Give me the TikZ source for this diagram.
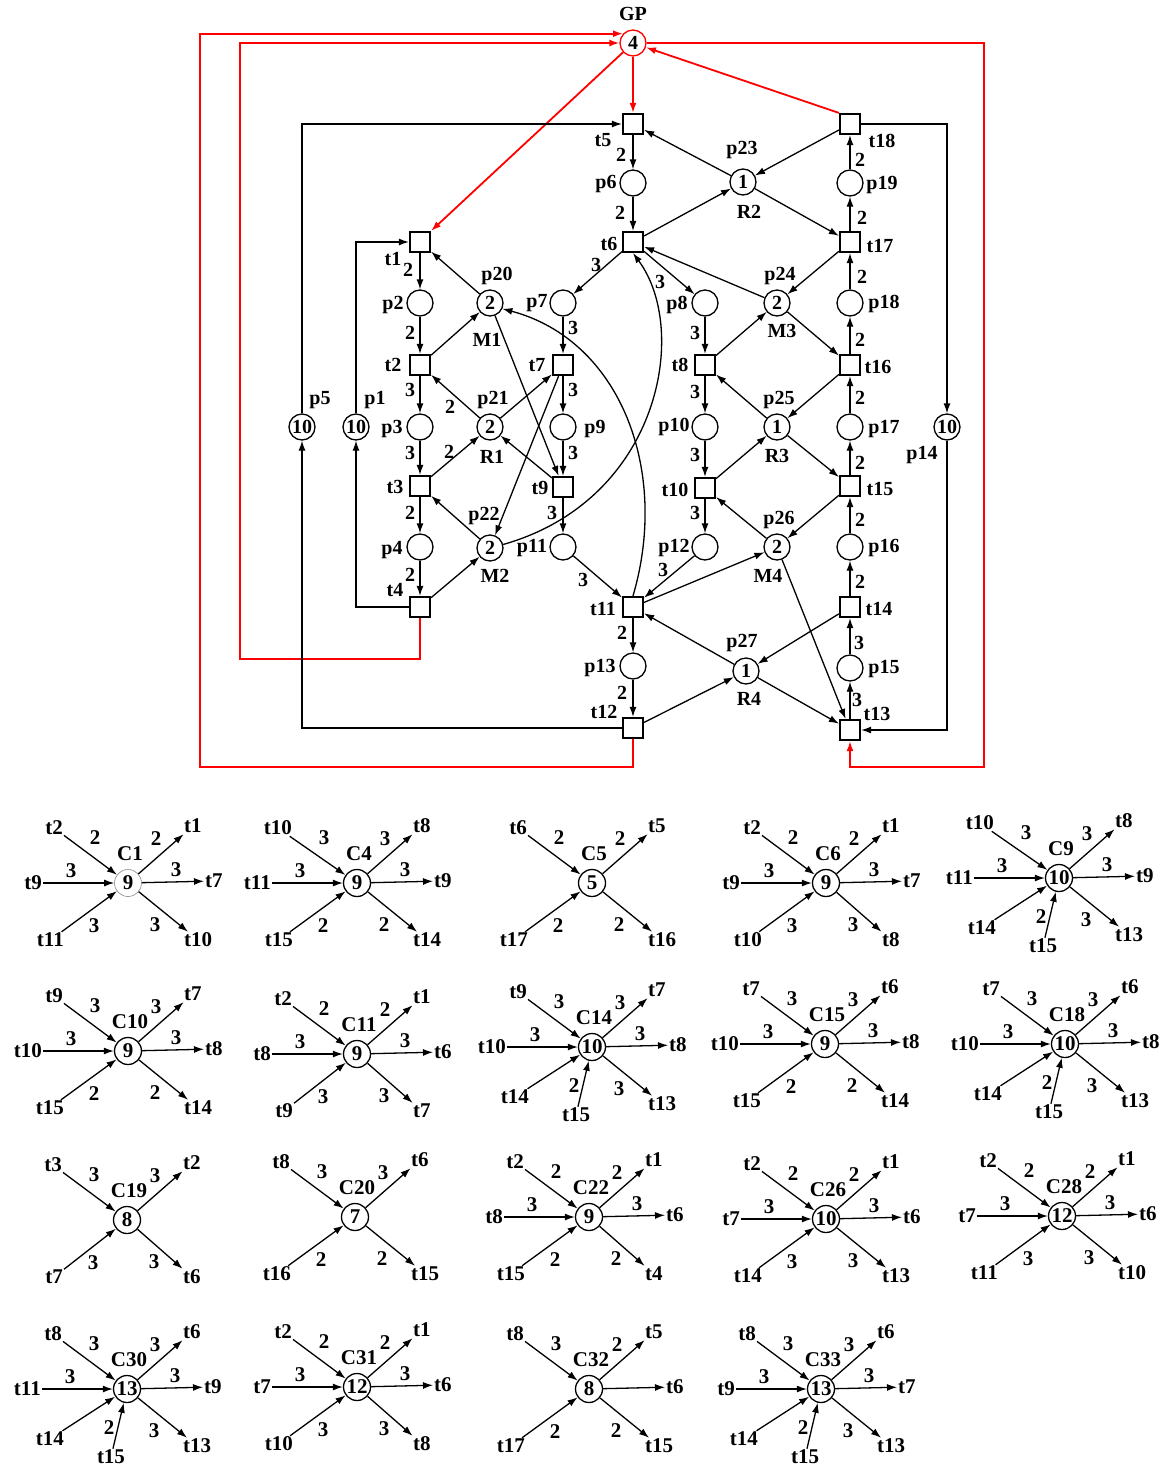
\documentclass[tikz,border=0pt]{standalone}
\usepackage{fontspec}
\setmainfont{Liberation Serif}
\usetikzlibrary{arrows.meta,calc}
\newcommand\wnode[3]{\def\argtmp{#3}\ifx\argtmp\empty\else\node (#1) at (#2) {#3};\fi}
\newcommand\mkC[4]{\node[cpl,#4] (#1) at (0,0) {#3};\node (#1n) at (2,-29) {#2};}
\newcommand\aUL[3]{\node[anchor=east] (#1a) at (-64,-55) {#2};\draw[arr] (#1a) -- (#1);\wnode{#1aw}{-33,-45}{#3}}
\newcommand\aL[3]{\node[anchor=east] (#1b) at (-85,0) {#2};\draw[arr] (#1b) -- (#1);\wnode{#1bw}{-57,-12}{#3}}
\newcommand\aLL[3]{\node[anchor=east] (#1c) at (-63,57) {#2};\draw[arr] (#1c) -- (#1);\wnode{#1cw}{-34,43}{#3}}
\newcommand\aLLb[2]{\node[anchor=east] (#1c) at (-62,50) {#2};\draw[arr] (#1c) -- (#1);}
\newcommand\aB[3]{\node (#1d) at (-16,68) {#2};\draw[arr] (#1d) -- (#1);\wnode{#1dw}{-18,39}{#3}}
\newcommand\aUR[3]{\node[anchor=west] (#1e) at (55,-57) {#2};\draw[arr] (#1) -- (#1e);\wnode{#1ew}{28,-44}{#3}}
\newcommand\aR[3]{\node[anchor=west] (#1f) at (76,-2) {#2};\draw[arr] (#1) -- (#1f);\wnode{#1fw}{48,-13}{#3}}
\newcommand\aLR[3]{\node[anchor=west] (#1g) at (55,57) {#2};\draw[arr] (#1) -- (#1g);\wnode{#1gw}{27,42}{#3}}
\begin{document}
\begin{tikzpicture}[x=1pt,y=-1pt,
  every node/.style={font=\fontsize{20}{22}\selectfont\bfseries,inner sep=1pt},
  pl/.style={circle,draw,line width=1.3pt,minimum size=26pt,inner sep=0pt},
  cpl/.style={circle,draw,line width=1.3pt,minimum size=27pt,inner sep=0pt},
  tr/.style={rectangle,draw,line width=2.2pt,minimum size=20pt,inner sep=0pt},
  arr/.style={-{Latex[length=10pt,width=7pt]},line width=1.3pt},
  redarr/.style={arr,red,line width=1.8pt},
  starsc/.style={every node/.append style={font=\fontsize{21}{23}\selectfont\bfseries}}]
\useasboundingbox[fill=white] (0,0) rectangle (1167,1468);
% ---------- places ----------
\node[pl,draw=red] (GP) at (633,43) {4};
\node (GPl) at (633,14) {GP};
\node[pl] (p6) at (633,183) {};
\node[pl] (p23) at (743,182) {1};
\node[pl] (p19) at (850,183) {};
\node[pl] (p2) at (420,303) {};
\node[pl] (p20) at (490,303) {2};
\node[pl] (p7) at (563,303) {};
\node[pl] (p8) at (705,303) {};
\node[pl] (p24) at (777,303) {2};
\node[pl] (p18) at (850,303) {};
\node[pl] (p5) at (302,427) {10};
\node[pl] (p1) at (356,427) {10};
\node[pl] (p3) at (420,427) {};
\node[pl] (p21) at (490,427) {2};
\node[pl] (p9) at (563,427) {};
\node[pl] (p10) at (705,427) {};
\node[pl] (p25) at (777,427) {1};
\node[pl] (p17) at (850,427) {};
\node[pl] (p14) at (947,427) {10};
\node[pl] (p4) at (420,547) {};
\node[pl] (p22) at (490,548) {2};
\node[pl] (p11) at (563,547) {};
\node[pl] (p12) at (705,547) {};
\node[pl] (p26) at (777,547) {2};
\node[pl] (p16) at (850,547) {};
\node[pl] (p13) at (633,666) {};
\node[pl] (p27) at (746,671) {1};
\node[pl] (p15) at (850,668) {};
% ---------- transitions ----------
\node[tr] (t5) at (633,124) {};
\node[tr] (t6) at (633,242) {};
\node[tr] (t1) at (420,242) {};
\node[tr] (t2) at (420,365) {};
\node[tr] (t3) at (420,486) {};
\node[tr] (t4) at (420,607) {};
\node[tr] (t7) at (563,365) {};
\node[tr] (t9) at (563,487) {};
\node[tr] (t8) at (705,365) {};
\node[tr] (t10) at (705,488) {};
\node[tr] (t11) at (633,607) {};
\node[tr] (t12) at (633,728) {};
\node[tr] (t13) at (850,730) {};
\node[tr] (t14) at (850,607) {};
\node[tr] (t15) at (850,486) {};
\node[tr] (t16) at (850,365) {};
\node[tr] (t17) at (850,242) {};
\node[tr] (t18) at (850,124) {};
% ---------- names ----------
\node (lt5) at (603,140) {t5};
\node (lt6) at (609,244) {t6};
\node (lt1) at (393,259) {t1};
\node (lt2) at (393,365) {t2};
\node (lt3) at (395,487) {t3};
\node (lt4) at (395,590) {t4};
\node (lt7) at (537,365) {t7};
\node (lt9) at (540,488) {t9};
\node (lt8) at (680,365) {t8};
\node (lt10) at (675,490) {t10};
\node (lt11) at (603,609) {t11};
\node (lt12) at (604,712) {t12};
\node (lt13) at (877,714) {t13};
\node (lt14) at (879,609) {t14};
\node (lt15) at (880,489) {t15};
\node (lt16) at (878,367) {t16};
\node (lt17) at (880,246) {t17};
\node (lt18) at (882,141) {t18};
\node (lp6) at (606,184) {p6};
\node (lp23) at (742,150) {p23};
\node (lR2) at (749,212) {R2};
\node (lp19) at (882,185) {p19};
\node (lp2) at (393,305) {p2};
\node (lp20) at (497,276) {p20};
\node (lM1) at (487,340) {M1};
\node (lp7) at (537,303) {p7};
\node (lp8) at (677,305) {p8};
\node (lp24) at (780,276) {p24};
\node (lM3) at (782,331) {M3};
\node (lp18) at (884,304) {p18};
\node (lp5) at (320,400) {p5};
\node (lp1) at (375,400) {p1};
\node (lp3) at (392,429) {p3};
\node (lp21) at (493,400) {p21};
\node (lR1) at (492,457) {R1};
\node (lp9) at (595,429) {p9};
\node (lp10) at (674,427) {p10};
\node (lp25) at (779,400) {p25};
\node (lR3) at (777,456) {R3};
\node (lp17) at (884,429) {p17};
\node (lp14) at (922,455) {p14};
\node (lp4) at (392,550) {p4};
\node (lp22) at (484,516) {p22};
\node (lM2) at (495,576) {M2};
\node (lp11) at (532,548) {p11};
\node (lp12) at (674,548) {p12};
\node (lp26) at (779,520) {p26};
\node (lM4) at (768,576) {M4};
\node (lp16) at (884,548) {p16};
\node (lp13) at (600,668) {p13};
\node (lp27) at (742,643) {p27};
\node (lR4) at (749,699) {R4};
\node (lp15) at (884,669) {p15};
% ---------- red arcs ----------
\draw[redarr] (GP) -- (t5);
\draw[redarr] (GP) -- (t1.north east);
\draw[redarr] (t18.north west) -- (GP);
\draw[redarr] (GP.east) -| (984,767) -| (t13.south);
\draw[redarr] (t12.south) |- (200,767) |- (GP.137);
\draw[redarr] (t4.south) |- (240,659) |- (GP.west);
% ---------- outer black arcs ----------
\draw[arr] (t12.west) -| (p5.south);
\draw[arr] (p5.north) |- (t5.west);
\draw[arr] (t4.west) -| (p1.south);
\draw[arr] (p1.north) |- (t1.west);
\draw[arr] (t18.east) -| (p14.north);
\draw[arr] (p14.south) |- (t13.east);
% ---------- inner arcs ----------
\draw[arr] (t5) -- (p6);
\draw[arr] (p6) -- (t6);
\draw[arr] (p23) -- (t5);
\draw[arr] (t18) -- (p23);
\draw[arr] (t6) -- (p23);
\draw[arr] (p23) -- (t17);
\draw[arr] (p19) -- (t18);
\draw[arr] (t17) -- (p19);
\draw[arr] (p24) -- (t6);
\draw[arr] (t17) -- (p24);
\draw[arr] (p18) -- (t17);
\draw[arr] (t6) -- (p7);
\draw[arr] (t6) -- (p8);
\draw[arr] (t1) -- (p2);
\draw[arr] (p20) -- (t1);
\draw[arr] (p2) -- (t2);
\draw[arr] (t2) -- (p20);
\draw[arr] (p20) -- (t9);
\draw[arr] (t11.north) .. controls (670,470) and (620,340) .. (p20.-25);
\draw[arr] (p22.15) .. controls (660,500) and (690,330) .. (t6.south);
\draw[arr] (p7) -- (t7);
\draw[arr] (t7) -- (p9);
\draw[arr] (t7) -- (p22);
\draw[arr] (p21) -- (t7);
\draw[arr] (p21) -- (t2);
\draw[arr] (t3) -- (p21);
\draw[arr] (t9) -- (p21);
\draw[arr] (t2) -- (p3);
\draw[arr] (p3) -- (t3);
\draw[arr] (p9) -- (t9);
\draw[arr] (t3) -- (p4);
\draw[arr] (p22) -- (t3);
\draw[arr] (p4) -- (t4);
\draw[arr] (t4) -- (p22);
\draw[arr] (t9) -- (p11);
\draw[arr] (p11) -- (t11);
\draw[arr] (p8) -- (t8);
\draw[arr] (t8) -- (p24);
\draw[arr] (p24) -- (t16);
\draw[arr] (t16) -- (p18);
\draw[arr] (t8) -- (p10);
\draw[arr] (p25) -- (t8);
\draw[arr] (t16) -- (p25);
\draw[arr] (p17) -- (t16);
\draw[arr] (p10) -- (t10);
\draw[arr] (t10) -- (p25);
\draw[arr] (p25) -- (t15);
\draw[arr] (t15) -- (p17);
\draw[arr] (t10) -- (p12);
\draw[arr] (p26) -- (t10);
\draw[arr] (t15) -- (p26);
\draw[arr] (p16) -- (t15);
\draw[arr] (p12) -- (t11);
\draw[arr] (t11) -- (p26);
\draw[arr] (p26) -- (t13);
\draw[arr] (t14) -- (p16);
\draw[arr] (t11) -- (p13);
\draw[arr] (p27) -- (t11);
\draw[arr] (t14) -- (p27);
\draw[arr] (p13) -- (t12);
\draw[arr] (t12) -- (p27);
\draw[arr] (p27) -- (t13);
\draw[arr] (p15) -- (t14);
\draw[arr] (t13) -- (p15);
% ---------- weights ----------
\node (w1) at (621,155) {2};
\node (w2) at (620,213) {2};
\node (w3) at (860,160) {2};
\node (w4) at (862,218) {2};
\node (w5) at (862,277) {2};
\node (w6) at (596,265) {3};
\node (w7) at (660,282) {3};
\node (w8) at (408,270) {2};
\node (w9) at (410,333) {2};
\node (w10) at (410,390) {3};
\node (w11) at (450,407) {2};
\node (w12) at (410,453) {3};
\node (w13) at (449,452) {2};
\node (w14) at (410,513) {2};
\node (w15) at (410,575) {2};
\node (w16) at (573,328) {3};
\node (w17) at (573,390) {3};
\node (w18) at (573,453) {3};
\node (w19) at (552,513) {3};
\node (w20) at (583,580) {3};
\node (w21) at (663,570) {3};
\node (w22) at (695,333) {3};
\node (w23) at (695,392) {3};
\node (w24) at (695,455) {3};
\node (w25) at (695,513) {3};
\node (w26) at (860,340) {2};
\node (w27) at (860,398) {2};
\node (w28) at (860,463) {2};
\node (w29) at (860,520) {2};
\node (w30) at (860,582) {2};
\node (w31) at (622,633) {2};
\node (w32) at (622,693) {2};
\node (w33) at (859,643) {3};
\node (w34) at (857,700) {3};
% ---------- invariant stars ----------
\begin{scope}[starsc,shift={(128,883)}]
\mkC{C1}{C1}{9}{draw=black!45,line width=0.6pt}
\aUL{C1}{t2}{2}\aL{C1}{t9}{3}\aLL{C1}{t11}{3}\aUR{C1}{t1}{2}\aR{C1}{t7}{3}\aLR{C1}{t10}{3}
\end{scope}
\begin{scope}[starsc,shift={(357,883)}]
\mkC{C4}{C4}{9}{}
\aUL{C4}{t10}{3}\aL{C4}{t11}{3}\aLL{C4}{t15}{2}\aUR{C4}{t8}{3}\aR{C4}{t9}{3}\aLR{C4}{t14}{2}
\end{scope}
\begin{scope}[starsc,shift={(592,883)}]
\mkC{C5}{C5}{5}{}
\aUL{C5}{t6}{2}\aLL{C5}{t17}{2}\aUR{C5}{t5}{2}\aLR{C5}{t16}{2}
\end{scope}
\begin{scope}[starsc,shift={(826,883)}]
\mkC{C6}{C6}{9}{}
\aUL{C6}{t2}{2}\aL{C6}{t9}{3}\aLL{C6}{t10}{3}\aUR{C6}{t1}{2}\aR{C6}{t7}{3}\aLR{C6}{t8}{3}
\end{scope}
\begin{scope}[starsc,shift={(1059,878)}]
\mkC{C9}{C9}{10}{}
\aUL{C9}{t10}{3}\aL{C9}{t11}{3}\aLLb{C9}{t14}\aB{C9}{t15}{2}\aUR{C9}{t8}{3}\aR{C9}{t9}{3}\aLR{C9}{t13}{3}
\end{scope}
\begin{scope}[starsc,shift={(128,1051)}]
\mkC{C10}{C10}{9}{}
\aUL{C10}{t9}{3}\aL{C10}{t10}{3}\aLL{C10}{t15}{2}\aUR{C10}{t7}{3}\aR{C10}{t8}{3}\aLR{C10}{t14}{2}
\end{scope}
\begin{scope}[starsc,shift={(357,1054)}]
\mkC{C11}{C11}{9}{}
\aUL{C11}{t2}{2}\aL{C11}{t8}{3}\aLL{C11}{t9}{3}\aUR{C11}{t1}{2}\aR{C11}{t6}{3}\aLR{C11}{t7}{3}
\end{scope}
\begin{scope}[starsc,shift={(592,1047)}]
\mkC{C14}{C14}{10}{}
\aUL{C14}{t9}{3}\aL{C14}{t10}{3}\aLLb{C14}{t14}\aB{C14}{t15}{2}\aUR{C14}{t7}{3}\aR{C14}{t8}{3}\aLR{C14}{t13}{3}
\end{scope}
\begin{scope}[starsc,shift={(825,1044)}]
\mkC{C15}{C15}{9}{}
\aUL{C15}{t7}{3}\aL{C15}{t10}{3}\aLL{C15}{t15}{2}\aUR{C15}{t6}{3}\aR{C15}{t8}{3}\aLR{C15}{t14}{2}
\end{scope}
\begin{scope}[starsc,shift={(1065,1044)}]
\mkC{C18}{C18}{10}{}
\aUL{C18}{t7}{3}\aL{C18}{t10}{3}\aLLb{C18}{t14}\aB{C18}{t15}{2}\aUR{C18}{t6}{3}\aR{C18}{t8}{3}\aLR{C18}{t13}{3}
\end{scope}
\begin{scope}[starsc,shift={(127,1220)}]
\mkC{C19}{C19}{8}{}
\aUL{C19}{t3}{3}\aLL{C19}{t7}{3}\aUR{C19}{t2}{3}\aLR{C19}{t6}{3}
\end{scope}
\begin{scope}[starsc,shift={(355,1217)}]
\mkC{C20}{C20}{7}{}
\aUL{C20}{t8}{3}\aLL{C20}{t16}{2}\aUR{C20}{t6}{3}\aLR{C20}{t15}{2}
\end{scope}
\begin{scope}[starsc,shift={(589,1217)}]
\mkC{C22}{C22}{9}{}
\aUL{C22}{t2}{2}\aL{C22}{t8}{3}\aLL{C22}{t15}{2}\aUR{C22}{t1}{2}\aR{C22}{t6}{3}\aLR{C22}{t4}{2}
\end{scope}
\begin{scope}[starsc,shift={(826,1219)}]
\mkC{C26}{C26}{10}{}
\aUL{C26}{t2}{2}\aL{C26}{t7}{3}\aLL{C26}{t14}{3}\aUR{C26}{t1}{2}\aR{C26}{t6}{3}\aLR{C26}{t13}{3}
\end{scope}
\begin{scope}[starsc,shift={(1062,1216)}]
\mkC{C28}{C28}{12}{}
\aUL{C28}{t2}{2}\aL{C28}{t7}{3}\aLL{C28}{t11}{3}\aUR{C28}{t1}{2}\aR{C28}{t6}{3}\aLR{C28}{t10}{3}
\end{scope}
\begin{scope}[starsc,shift={(127,1389)}]
\mkC{C30}{C30}{13}{}
\aUL{C30}{t8}{3}\aL{C30}{t11}{3}\aLLb{C30}{t14}\aB{C30}{t15}{2}\aUR{C30}{t6}{3}\aR{C30}{t9}{3}\aLR{C30}{t13}{3}
\end{scope}
\begin{scope}[starsc,shift={(357,1387)}]
\mkC{C31}{C31}{12}{}
\aUL{C31}{t2}{2}\aL{C31}{t7}{3}\aLL{C31}{t10}{3}\aUR{C31}{t1}{2}\aR{C31}{t6}{3}\aLR{C31}{t8}{3}
\end{scope}
\begin{scope}[starsc,shift={(589,1389)}]
\mkC{C32}{C32}{8}{}
\aUL{C32}{t8}{3}\aLL{C32}{t17}{2}\aUR{C32}{t5}{2}\aR{C32}{t6}{}\aLR{C32}{t15}{2}
\end{scope}
\begin{scope}[starsc,shift={(821,1389)}]
\mkC{C33}{C33}{13}{}
\aUL{C33}{t8}{3}\aL{C33}{t9}{3}\aLLb{C33}{t14}\aB{C33}{t15}{2}\aUR{C33}{t6}{3}\aR{C33}{t7}{3}\aLR{C33}{t13}{3}
\end{scope}
\end{tikzpicture}
\end{document}
